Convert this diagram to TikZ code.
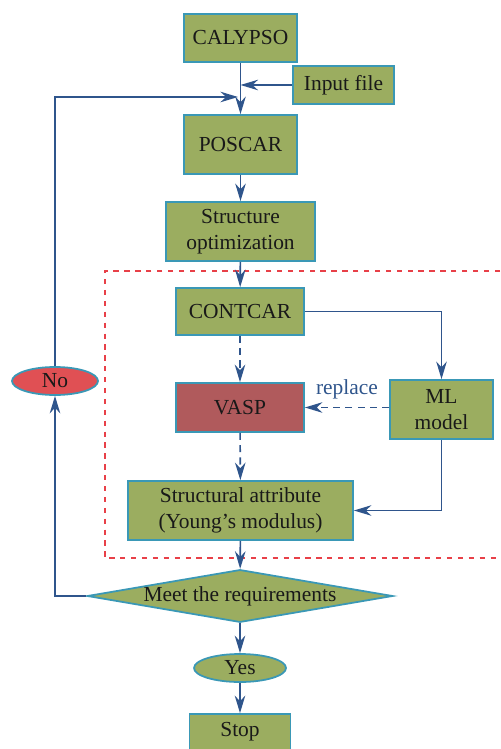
\documentclass[tikz,border=0pt]{standalone}
\usepackage{fontspec}
\setmainfont{Liberation Serif}
\usepackage{tikz}
\usetikzlibrary{arrows.meta}
\usetikzlibrary{shapes.geometric}

\definecolor{boxgreen}{RGB}{155,173,96}
\definecolor{boxedge}{RGB}{58,152,182}
\definecolor{vasped}{RGB}{176,90,92}
\definecolor{nored}{RGB}{224,80,84}
\definecolor{flowblue}{RGB}{47,85,140}
\definecolor{frame}{RGB}{232,64,72}

\begin{document}
\begin{tikzpicture}[x=0.02cm, y=-0.02cm,
    every node/.style={font=\fontsize{12.2}{14.8}\selectfont, text=black!90},
    stepbox/.style={draw=boxedge, line width=1pt, fill=boxgreen, inner sep=0pt, align=center},
    ovalbox/.style={ellipse, draw=boxedge, line width=1pt, fill=boxgreen, inner sep=0pt},
    flow/.style={-{Stealth[length=10pt, width=6pt]}, line width=0.9pt, flowblue},
    dflow/.style={flow, dash pattern=on 4pt off 3pt}]

\useasboundingbox (0,0) rectangle (500,749);

% ===================== MAIN CHAIN =====================
\node[stepbox, minimum width=2.26cm, minimum height=0.96cm] (cal) at (240.5,38) {CALYPSO};
\node[stepbox, minimum width=2.02cm, minimum height=0.76cm] (inp) at (343.5,85) {Input file};
\node[stepbox, minimum width=2.26cm, minimum height=1.18cm] (pos) at (240.5,144.5) {POSCAR};
\node[stepbox, minimum width=2.98cm, minimum height=1.18cm] (opt) at (240.5,231.5) {Structure\\optimization};

% ===================== DASHED BLOCK =====================
\draw[frame, line width=0.9pt, dash pattern=on 3pt off 3.2pt] (500,271) -- (105,271) -- (105,558) -- (500,558);

\node[stepbox, minimum width=2.56cm, minimum height=0.94cm] (cont) at (240,311.5) {CONTCAR};
\node[stepbox, fill=vasped, minimum width=2.56cm, minimum height=0.98cm] (vasp) at (240,407.5) {VASP};
\node[stepbox, minimum width=2.06cm, minimum height=1.18cm] (ml) at (441.5,409.5) {ML\\model};
\node[stepbox, minimum width=4.5cm, minimum height=1.18cm] (attr) at (240.5,510.5) {Structural attribute\\(Young's modulus)};

% ===================== DECISION =====================
\node[diamond, aspect=5.8, draw=boxedge, line width=1pt, fill=boxgreen, inner sep=0pt,
      minimum width=6cm, minimum height=1.04cm] (meet) at (240,596) {Meet the requirements};
\node[ovalbox, fill=nored, minimum width=1.72cm, minimum height=0.56cm] (no) at (55,381) {No};
\node[ovalbox, minimum width=1.84cm, minimum height=0.56cm] (yes) at (240,668) {Yes};
\node[stepbox, minimum width=2.02cm, minimum height=0.72cm] (stop) at (240,732) {Stop};

\coordinate (loopin) at (238,97);

% ===================== CONNECTORS =====================
\draw[flow] (cal) -- (pos);
\draw[flow] (inp.west) -- (inp.west -| cal.south);
\draw[flow] (no.north) |- (loopin);
\draw[flow] (pos) -- (opt);
\draw[flow] (opt) -- (cont);
\draw[dflow] (cont) -- (vasp);
\draw[flow] (cont.east) -| (ml.north);
\draw[dflow] (ml.west |- vasp.east) -- (vasp.east)
    node[midway, above, yshift=1pt, text=flowblue] {replace};
\draw[dflow] (vasp) -- (attr);
\draw[flow] (ml.south) |- (attr.east);
\draw[flow] (attr) -- (meet);
\draw[flow] (meet.west) -| (no.south);
\draw[flow] (meet) -- (yes);
\draw[flow] (yes) -- (stop);

\end{tikzpicture}
\end{document}
